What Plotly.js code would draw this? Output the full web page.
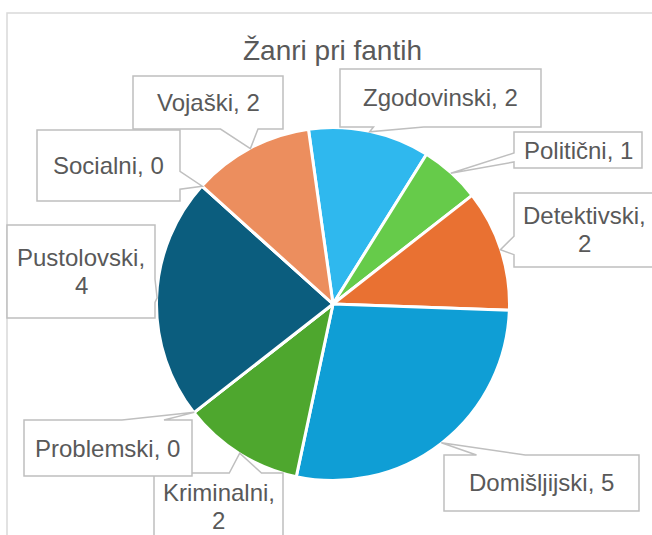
<!DOCTYPE html>
<html><head><meta charset="utf-8">
<script src="https://cdn.plot.ly/plotly-3.0.1.min.js"></script>
<style>html,body{margin:0;padding:0;background:#fff}</style>
</head><body><div id="chart" style="width:652px;height:535px"></div>
<script>
// ---- data ----
const categories = ['Zgodovinski','Politični','Detektivski','Domišljijski','Kriminalni','Problemski','Pustolovski','Socialni','Vojaški'];
const values = [2,1,2,5,2,0,4,0,2];
const sliceColors = ['#2FB8EE','#66CB4A','#E97132','#0F9ED5','#4EA72E','#196B24','#0B5D7E','#A02B93','#EC8E5E'];
const chartTitle = 'Žanri pri fantih';

// ---- layout (pixels) ----
const W = 652, H = 535;
const CX = 333, CY = 304, R = 176.5, TIP_R = 176, ROT = -8;
const LINE = 28;
// callout boxes: [left, top, right, bottom, wrapLabel]
const boxes = [
  [340, 69, 541, 127, false],
  [514, 132, 642, 168, false],
  [514, 193, 654, 267, true],
  [444, 455, 639, 511, false],
  [154, 473, 283, 539, true],
  [24, 420, 192, 476, false],
  [7, 225, 155, 318, true],
  [37, 130, 180, 201, false],
  [133, 76, 283, 129, false]
];
const TXT = '#595959', FONT = 'Liberation Sans, Arial, sans-serif';

const px = x => x / W, py = y => 1 - y / H;

function callout(x0, y0, x1, y1, tx, ty) {
  const w = x1 - x0, h = y1 - y0, cx = (x0 + x1) / 2, cy = (y0 + y1) / 2;
  const dxp = tx - cx, dyp = ty - cy;
  const xa = x0 + w * (dxp >= 0 ? 7 : 2) / 12, xb = x0 + w * (dxp >= 0 ? 10 : 5) / 12;
  const ya = y0 + h * (dyp >= 0 ? 7 : 2) / 12, yb = y0 + h * (dyp >= 0 ? 10 : 5) / 12;
  const vertical = Math.abs(dyp) / h > Math.abs(dxp) / w;
  const pts = [[x0, y0]];
  if (vertical && dyp < 0) pts.push([xa, y0], [tx, ty], [xb, y0]);
  pts.push([x1, y0]);
  if (!vertical && dxp > 0) pts.push([x1, ya], [tx, ty], [x1, yb]);
  pts.push([x1, y1]);
  if (vertical && dyp > 0) pts.push([xb, y1], [tx, ty], [xa, y1]);
  pts.push([x0, y1]);
  if (!vertical && dxp < 0) pts.push([x0, yb], [tx, ty], [x0, ya]);
  return 'M' + pts.map(p => px(p[0]).toFixed(5) + ',' + py(p[1]).toFixed(5)).join('L') + 'Z';
}

const total = values.reduce((a, b) => a + b, 0);
let cum = 0;
const shapes = [{
  type: 'rect', xref: 'paper', yref: 'paper', layer: 'below',
  x0: px(7), y0: py(13), x1: px(720), y1: py(620),
  line: {color: '#D9D9D9', width: 1.5}, fillcolor: 'rgba(0,0,0,0)'
}];
const annotations = [];
categories.forEach((cat, i) => {
  const mid = (ROT + (cum + values[i] / 2) * 360 / total) * Math.PI / 180;
  cum += values[i];
  const tx = CX + TIP_R * Math.sin(mid), ty = CY - TIP_R * Math.cos(mid);
  const b = boxes[i];
  shapes.push({
    type: 'path', xref: 'paper', yref: 'paper', layer: 'above',
    path: callout(b[0], b[1], b[2], b[3], tx, ty),
    fillcolor: '#FFFFFF', line: {color: '#BFBFBF', width: 1.5}
  });
  const lines = b[4] ? [cat + ',', String(values[i])] : [cat + ', ' + values[i]];
  const cy = (b[1] + b[3]) / 2;
  lines.forEach((t, k) => {
    annotations.push({
      xref: 'paper', yref: 'paper', x: px((b[0] + b[2]) / 2),
      y: py(cy + (k - (lines.length - 1) / 2) * LINE),
      xanchor: 'center', yanchor: 'middle', showarrow: false, align: 'center',
      text: t, font: {family: FONT, size: 24, color: TXT}
    });
  });
});

const data = [{
  type: 'pie', labels: categories, values: values, sort: false,
  direction: 'clockwise', rotation: ROT,
  marker: {colors: sliceColors, line: {color: '#FFFFFF', width: 3}},
  textinfo: 'none', hoverinfo: 'none', showlegend: false,
  domain: {x: [px(CX - R), px(CX + R)], y: [py(CY + R), py(CY - R)]}
}];

const layout = {
  width: W, height: H, margin: {l: 0, r: 0, t: 0, b: 0},
  paper_bgcolor: '#FFFFFF', showlegend: false,
  title: {text: chartTitle, x: 332.5 / W, xanchor: 'center', xref: 'paper',
          y: 1 - 50 / H, yanchor: 'middle', yref: 'container',
          font: {family: FONT, size: 28, color: TXT}},
  shapes: shapes, annotations: annotations
};
Plotly.newPlot('chart', data, layout, {displayModeBar: false, staticPlot: true});
</script></body></html>
